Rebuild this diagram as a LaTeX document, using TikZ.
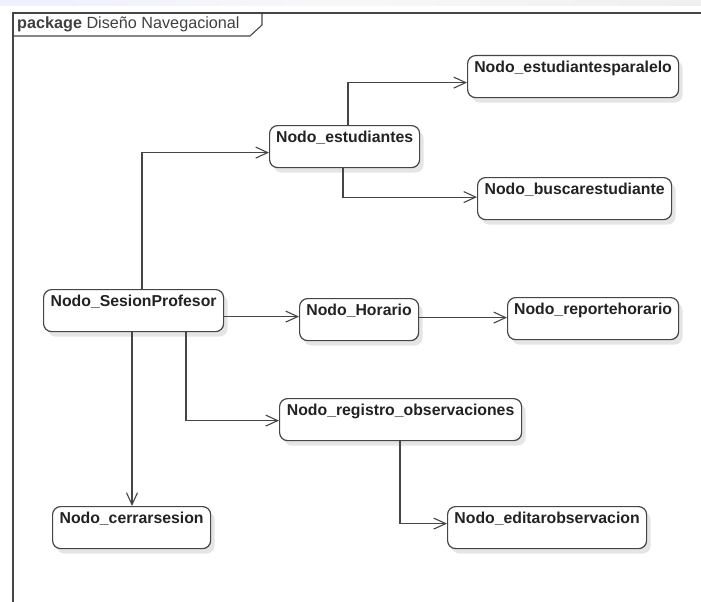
\documentclass[tikz,border=0pt]{standalone}
\usepackage{fontspec}
\setmainfont{Liberation Sans}
\usetikzlibrary{arrows.meta,shadows}
\definecolor{linec}{HTML}{454545}
\definecolor{textc}{HTML}{222222}
\tikzset{
  unode/.style={draw=linec, line width=1.2pt, rounded corners=8pt, fill=white,
    drop shadow={shadow xshift=4pt, shadow yshift=-5pt, opacity=0.10, fill=black},
    anchor=north west, minimum height=42pt, inner xsep=4pt, inner ysep=5pt,
    text height=11.5pt, text depth=20.5pt, align=center, text=textc,
    font=\fontsize{15.8}{18}\selectfont\bfseries},
  conn/.style={draw=linec, line width=1.1pt,
    -{Straight Barb[length=12pt,width=11pt,line width=1.1pt]}},
  plain/.style={draw=linec, line width=1.1pt},
}
\begin{document}
\begin{tikzpicture}[x=1pt,y=-1pt]
\useasboundingbox (0,0) rectangle (701,602);
% blurred strip at top
\shade[left color=black!5!blue!6, right color=blue!7!black!6, middle color=red!10!black!3] (0,0) rectangle (701,6);
% package frame
\draw[plain] (13,602) -- (13,13) -- (701,13);
\draw[plain] (13,36) -- (250,36) -- (262,25) -- (262,13);
\node[anchor=base west, inner sep=0pt, text=black!75, font=\fontsize{16.2}{18}\selectfont] (pkg) at (17,29) {\textbf{package} Diseño Navegacional};

% nodes
\node[unode, minimum width=211pt] (par) at (467,55) {Nodo\_estudiantesparalelo};
\node[unode, minimum width=150pt] (est) at (269,125) {Nodo\_estudiantes};
\node[unode, minimum width=194pt] (bus) at (477,177) {Nodo\_buscarestudiante};
\node[unode, minimum width=180pt] (ses) at (43,289) {Nodo\_SesionProfesor};
\node[unode, minimum width=119pt] (hor) at (299,298) {Nodo\_Horario};
\node[unode, minimum width=171pt] (rep) at (507,297) {Nodo\_reportehorario};
\node[unode, minimum width=242pt] (reg) at (279,398) {Nodo\_registro\_observaciones};
\node[unode, minimum width=158pt] (cer) at (52,506) {Nodo\_cerrarsesion};
\node[unode, minimum width=199pt] (edi) at (447,506) {Nodo\_editarobservacion};

% connectors
\draw[conn] ([xshift=99pt]ses.north west) |- ([yshift=-6pt]est.west);
\draw[conn] ([xshift=79pt]est.north west) |- ([yshift=-6pt]par.west);
\draw[conn] ([xshift=74pt]est.south west) |- ([yshift=1.5pt]bus.west);
\draw[conn] ([yshift=-6pt]ses.east) -- ([yshift=-6pt]ses.east -| hor.west);
\draw[conn] ([yshift=2pt]hor.east) -- ([yshift=2pt]hor.east -| rep.west);
\draw[conn] ([xshift=143pt]ses.south west) |- ([yshift=-1pt]reg.west);
\draw[conn] ([xshift=89pt]ses.south west) -- ([xshift=89pt]ses.south west |- cer.north);
\draw[conn] ([xshift=121pt]reg.south west) |- ([yshift=4pt]edi.west);
\end{tikzpicture}
\end{document}
